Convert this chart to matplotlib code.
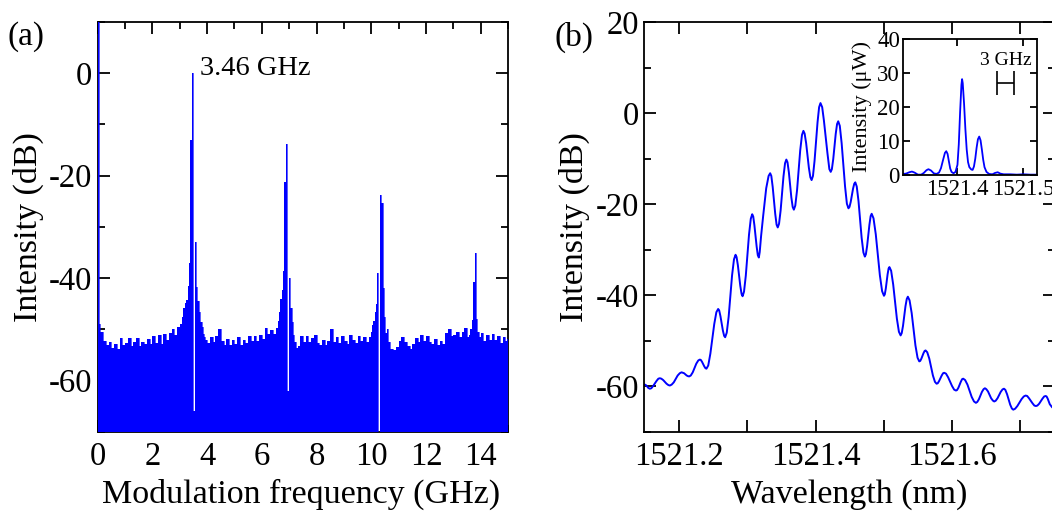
import numpy as np
import matplotlib
matplotlib.use("Agg")
import matplotlib.pyplot as plt
from matplotlib.ticker import MultipleLocator, FixedLocator, FormatStrFormatter

plt.rcParams['font.family'] = ['Liberation Serif', 'DejaVu Serif']
plt.rcParams['axes.unicode_minus'] = False
BLUE = '#0000ff'

# ---------------- (a) RF spectrum data ----------------
dc_freq = [0.0, 0.02]
dc_db = [10.0, 10.0]

floor1_freq = np.round(np.arange(0.05, 3.06, 0.1), 2)
floor1_db = [-49.0, -50.5, -52.3, -53.0, -52.4, -53.6, -52.8, -53.9, -51.6, -53.1,
             -52.6, -51.7, -53.2, -52.4, -51.6, -53.3, -52.5, -52.9, -51.8, -52.8,
             -51.2, -52.6, -51.1, -52.8, -50.8, -52.0, -50.6, -50.0, -51.0, -49.6,
             -49.0]

peak1_freq = [3.11, 3.16, 3.21, 3.26, 3.31, 3.36, 3.40, 3.46, 3.52, 3.57,
              3.62, 3.67, 3.72, 3.77, 3.82, 3.86, 3.90]
peak1_db = [-47.5, -45.9, -44.8, -44.2, -41.5, -37.0, -13.0, 0.0, -66.0, -33.0,
            -41.8, -44.5, -46.5, -48.5, -49.6, -50.8, -51.5]

floor2_freq = np.round(np.arange(3.95, 6.56, 0.1), 2)
floor2_db = [-52.0, -52.6, -51.4, -52.5, -51.3, -50.0, -52.2, -53.0, -51.8, -53.1,
             -52.0, -52.8, -51.5, -53.0, -52.0, -52.6, -51.3, -52.2, -51.2, -52.3,
             -51.0, -51.9, -49.8, -50.9, -50.1, -50.8, -49.8]

peak2_freq = [6.60, 6.65, 6.70, 6.75, 6.80, 6.84, 6.90, 6.96, 7.01, 7.06,
              7.11, 7.16, 7.22, 7.28]
peak2_db = [-48.4, -46.5, -44.0, -42.2, -38.5, -21.2, -13.9, -62.0, -40.0, -45.9,
            -48.5, -51.0, -52.4, -53.6]

floor3_freq = np.round(np.arange(7.35, 9.96, 0.1), 2)
floor3_db = [-53.2, -51.3, -52.4, -51.2, -52.5, -51.6, -51.0, -52.6, -53.0, -52.0,
             -53.1, -52.2, -50.0, -52.5, -51.4, -52.7, -51.2, -52.3, -52.8, -51.0,
             -52.0, -52.6, -51.2, -52.2, -51.5, -52.4, -51.5]

peak3_freq = [10.00, 10.05, 10.10, 10.15, 10.20, 10.24, 10.29, 10.34, 10.39, 10.44,
              10.49, 10.54, 10.59]
peak3_db = [-50.5, -49.2, -48.3, -46.6, -45.0, -39.0, -70.0, -23.8, -25.4, -42.0,
            -47.5, -50.7, -50.0]

floor4_freq = np.round(np.arange(10.65, 13.56, 0.1), 2)
floor4_db = [-52.5, -53.8, -54.0, -53.4, -52.2, -51.5, -52.4, -53.3, -53.9, -52.9,
             -51.6, -52.5, -51.1, -52.2, -51.3, -52.4, -52.8, -51.9, -53.0, -52.2,
             -52.9, -50.6, -50.0, -51.3, -51.0, -50.4, -51.4, -50.5, -49.8, -51.5]

peak4_freq = [13.60, 13.65, 13.70, 13.75, 13.80, 13.85, 13.90]
peak4_db = [-51.0, -50.0, -48.2, -40.7, -35.0, -48.0, -50.5]

floor5_freq = [13.95, 14.05, 14.15, 14.25, 14.35, 14.45, 14.55, 14.65, 14.75, 14.85, 14.95, 15.00]
floor5_db = [-51.5, -50.6, -52.2, -51.1, -52.0, -50.9, -52.1, -51.3, -52.6, -51.5, -52.3, -51.8]

# ---------------- (b) optical spectrum data ----------------
# points (extrema and points between them)
opt_wl_main = [1521.1497, 1521.1521, 1521.1546, 1521.1570, 1521.1619, 1521.1668, 1521.1717, 1521.1766,
               1521.1815, 1521.1864, 1521.1921, 1521.1978, 1521.2035, 1521.2072, 1521.2110, 1521.2147,
               1521.2199, 1521.2251, 1521.2303, 1521.2335, 1521.2368, 1521.2400, 1521.2457, 1521.2514,
               1521.2571, 1521.2605, 1521.2640, 1521.2674, 1521.2725, 1521.2775, 1521.2826, 1521.2860,
               1521.2895, 1521.2929, 1521.2976, 1521.3023, 1521.3070, 1521.3102, 1521.3135, 1521.3167,
               1521.3200, 1521.3231, 1521.3275, 1521.3333, 1521.3370, 1521.3407, 1521.3444, 1521.3486,
               1521.3528, 1521.3570, 1521.3607, 1521.3643, 1521.3680, 1521.3727, 1521.3773, 1521.3820,
               1521.3860, 1521.3900, 1521.3940, 1521.3983, 1521.4027, 1521.4070, 1521.4120, 1521.4172,
               1521.4220, 1521.4257, 1521.4293, 1521.4330, 1521.4380, 1521.4430, 1521.4480, 1521.4513,
               1521.4547, 1521.4580, 1521.4627, 1521.4673, 1521.4720, 1521.4753, 1521.4787, 1521.4820,
               1521.4880, 1521.4940, 1521.5000, 1521.5027, 1521.5053, 1521.5080, 1521.5135, 1521.5189,
               1521.5244, 1521.5279, 1521.5315, 1521.5350, 1521.5406, 1521.5461, 1521.5517, 1521.5548,
               1521.5579, 1521.5610, 1521.5664, 1521.5717, 1521.5771, 1521.5808, 1521.5846, 1521.5883,
               1521.5940, 1521.5997, 1521.6054, 1521.6090, 1521.6125, 1521.6161, 1521.6223, 1521.6285,
               1521.6347, 1521.6391, 1521.6435, 1521.6479, 1521.6524, 1521.6570, 1521.6615, 1521.6663,
               1521.6710, 1521.6758, 1521.6803, 1521.6849, 1521.6894, 1521.6954, 1521.7015, 1521.7075,
               1521.7125, 1521.7176, 1521.7226, 1521.7273, 1521.7321, 1521.7368, 1521.7399, 1521.7429,
               1521.7460]
opt_db_main = [-59.6, -59.8, -60.3, -60.5, -59.9, -58.8, -58.2, -58.6,
               -59.4, -59.8, -59.1, -57.6, -56.9, -57.1, -57.6, -57.8,
               -56.9, -55.0, -54.1, -54.6, -55.6, -56.1, -52.8, -46.3,
               -43.0, -44.6, -47.7, -49.2, -44.7, -35.6, -31.1, -33.4,
               -37.9, -40.2, -35.7, -26.7, -22.2, -24.6, -29.3, -31.7,
               -27.0, -22.5, -16.5, -13.2, -16.2, -22.1, -25.1, -21.4,
               -13.9, -10.2, -13.0, -18.5, -21.2, -16.9, -8.2, -3.9,
               -6.6, -12.0, -14.7, -10.5, -2.0, 2.2, -1.6, -8.8,
               -12.9, -10.1, -4.6, -1.8, -6.6, -16.1, -20.9, -19.5,
               -16.6, -15.2, -19.3, -27.4, -31.5, -29.2, -24.5, -22.1,
               -26.6, -35.6, -40.1, -38.5, -35.4, -33.8, -37.6, -45.1,
               -48.8, -46.7, -42.4, -40.3, -43.9, -51.0, -54.5, -53.9,
               -52.7, -52.1, -53.9, -57.6, -59.4, -58.8, -57.6, -57.0,
               -58.0, -59.9, -60.9, -60.3, -59.0, -58.3, -59.6, -62.3,
               -63.6, -62.8, -61.2, -60.4, -61.1, -62.6, -63.3, -62.6,
               -61.2, -60.5, -61.7, -64.0, -65.1, -64.3, -62.8, -62.0,
               -62.6, -63.7, -64.3, -63.8, -62.7, -62.1, -62.7, -63.9,
               -64.5]
# extra points read close to each crest and trough (rounded tops)
opt_wl_round = [1521.1592, 1521.1695, 1521.1739, 1521.1842, 1521.1890, 1521.2009, 1521.2052, 1521.2130,
                1521.2170, 1521.2280, 1521.2318, 1521.2385, 1521.2426, 1521.2545, 1521.2586, 1521.2659,
                1521.2697, 1521.2803, 1521.2841, 1521.2914, 1521.2950, 1521.3049, 1521.3085, 1521.3152,
                1521.3180, 1521.3310, 1521.3350, 1521.3427, 1521.3463, 1521.3551, 1521.3587, 1521.3663,
                1521.3701, 1521.3799, 1521.3838, 1521.3922, 1521.3960, 1521.4050, 1521.4095, 1521.4200,
                1521.4237, 1521.4313, 1521.4353, 1521.4457, 1521.4495, 1521.4565, 1521.4601, 1521.4699,
                1521.4735, 1521.4805, 1521.4847, 1521.4973, 1521.5012, 1521.5068, 1521.5105, 1521.5219,
                1521.5260, 1521.5334, 1521.5375, 1521.5492, 1521.5531, 1521.5596, 1521.5634, 1521.5747,
                1521.5788, 1521.5866, 1521.5909, 1521.6028, 1521.6070, 1521.6145, 1521.6189, 1521.6319,
                1521.6367, 1521.6459, 1521.6499, 1521.6595, 1521.6636, 1521.6737, 1521.6778, 1521.6874,
                1521.6921, 1521.7048, 1521.7098, 1521.7203, 1521.7247, 1521.7347, 1521.7382]
opt_db_round = [-60.4, -58.3, -58.3, -59.7, -59.6, -57.1, -57.0, -57.75,
                -57.6, -54.3, -54.2, -56.0, -55.4, -43.7, -43.3, -48.9,
                -48.2, -32.1, -31.6, -39.7, -39.2, -23.2, -22.7, -31.2,
                -30.5, -13.8, -13.8, -24.5, -24.3, -11.0, -10.8, -20.6,
                -20.3, -4.8, -4.5, -14.1, -13.8, 1.3, 1.3, -12.3,
                -12.3, -2.4, -2.8, -19.9, -20.6, -15.5, -16.1, -30.6,
                -31.0, -22.6, -23.1, -39.1, -39.8, -34.1, -34.6, -48.0,
                -48.3, -40.8, -41.1, -53.7, -54.4, -52.2, -52.5, -59.0,
                -59.3, -57.1, -57.2, -60.7, -60.8, -58.4, -58.6, -63.3,
                -63.4, -60.6, -60.6, -63.1, -63.15, -60.65, -60.75, -64.85,
                -64.9, -62.2, -62.1, -64.2, -64.2, -62.2, -62.2]

# ---------------- inset (linear scale) ----------------
inset_wl = [1521.317, 1521.322, 1521.327, 1521.331, 1521.335, 1521.340, 1521.345, 1521.349,
            1521.353, 1521.356, 1521.360, 1521.364, 1521.368, 1521.372, 1521.375, 1521.378,
            1521.381, 1521.383, 1521.385, 1521.387, 1521.389, 1521.391, 1521.394, 1521.397,
            1521.400, 1521.402, 1521.404, 1521.406, 1521.407, 1521.408, 1521.410, 1521.412,
            1521.414, 1521.416, 1521.418, 1521.421, 1521.423, 1521.425, 1521.427, 1521.429,
            1521.431, 1521.433, 1521.435, 1521.437, 1521.439, 1521.441, 1521.444, 1521.448,
            1521.453, 1521.457, 1521.461, 1521.465, 1521.470, 1521.480, 1521.490, 1521.500,
            1521.510, 1521.521]
inset_uw = [0.3, 0.4, 0.8, 1.0, 0.7, 0.1, 0.1, 0.6,
            1.4, 1.7, 1.3, 0.5, 0.3, 0.7, 2.0, 4.3,
            6.5, 7.0, 6.2, 4.0, 1.9, 0.9, 0.5, 0.9,
            3.0, 9.0, 18.5, 26.5, 28.2, 27.0, 21.0, 13.5,
            7.5, 3.8, 2.3, 1.6, 1.5, 2.5, 4.8, 8.0,
            10.5, 11.3, 10.2, 7.5, 4.5, 2.3, 0.9, 0.3,
            0.2, 0.6, 0.8, 0.4, 0.2, 0.2, 0.1, 0.2,
            0.1, 0.1]

scalebar_center_nm = 1521.473
scalebar_half_nm = 0.013
scalebar_level_uw = 27.0

# ---------------- figure ----------------
fig = plt.figure(figsize=(10.52, 5.16), dpi=100)
ax1 = fig.add_axes([0.0929, 0.1628, 0.3900, 0.7946])
ax2 = fig.add_axes([0.6125, 0.1628, 0.3900, 0.7946])
axin = fig.add_axes([0.8581, 0.6609, 0.1279, 0.2635])

TICK_FS = 23.5
LABEL_FS = 24.5


def style(ax, fs, major_len, minor_len):
    for s in ax.spines.values():
        s.set_linewidth(1.3)
    ax.tick_params(which='both', direction='in', top=True, right=True,
                   width=1.3, labelsize=fs)
    ax.tick_params(which='major', length=major_len)
    ax.tick_params(which='minor', length=minor_len)


# (a)
freq_a = np.concatenate([dc_freq, floor1_freq, peak1_freq, floor2_freq, peak2_freq,
                         floor3_freq, peak3_freq, floor4_freq, peak4_freq, floor5_freq])
db_a = np.concatenate([dc_db, floor1_db, peak1_db, floor2_db, peak2_db,
                       floor3_db, peak3_db, floor4_db, peak4_db, floor5_db])
ax1.fill_between(freq_a, -70, db_a, step='mid', color=BLUE, lw=0, zorder=3)
ax1.plot(freq_a, db_a, drawstyle='steps-mid', color=BLUE, lw=0.45, zorder=3)
ax1.set_xlim(0, 15)
ax1.set_ylim(-70, 10)
ax1.xaxis.set_major_locator(MultipleLocator(2))
ax1.xaxis.set_minor_locator(MultipleLocator(1))
ax1.yaxis.set_major_locator(MultipleLocator(20))
ax1.yaxis.set_minor_locator(MultipleLocator(10))
style(ax1, TICK_FS, 8.6, 5)
ax1.tick_params(axis='x', which='major', pad=7)
ax1.tick_params(axis='y', which='major', pad=4)
ax1.set_xlabel('Modulation frequency (GHz)', fontsize=LABEL_FS)
ax1.set_ylabel('Intensity (dB)', fontsize=LABEL_FS)
ax1.xaxis.set_label_coords(0.4955, -0.115)
ax1.yaxis.set_label_coords(-0.131, 0.5)
ax1.text(3.75, -0.4, '3.46 GHz', fontsize=20.5, va='baseline', ha='left')

# (b)
wl_b = np.concatenate([opt_wl_main, opt_wl_round])
db_b = np.concatenate([opt_db_main, opt_db_round])
order = np.argsort(wl_b)
ax2.plot(wl_b[order], db_b[order], color=BLUE, lw=1.4)
ax2.set_xlim(1521.149, 1521.750)
ax2.set_ylim(-70, 20)
ax2.xaxis.set_major_locator(FixedLocator([1521.2, 1521.4, 1521.6]))
ax2.xaxis.set_minor_locator(FixedLocator([1521.3, 1521.5, 1521.7]))
ax2.xaxis.set_major_formatter(FormatStrFormatter('%.1f'))
ax2.yaxis.set_major_locator(MultipleLocator(20))
ax2.yaxis.set_minor_locator(MultipleLocator(10))
style(ax2, TICK_FS, 8.6, 5)
ax2.tick_params(axis='x', which='minor', length=8.6)
ax2.tick_params(axis='x', which='major', pad=7)
ax2.tick_params(axis='y', which='major', pad=4)
ax2.set_xlabel('Wavelength (nm)', fontsize=LABEL_FS)
ax2.set_ylabel('Intensity (dB)', fontsize=LABEL_FS)
ax2.xaxis.set_label_coords(0.5, -0.115)
ax2.yaxis.set_label_coords(-0.132, 0.5)

# inset
axin.plot(inset_wl, inset_uw, color=BLUE, lw=1.3)
axin.set_xlim(1521.317, 1521.521)
axin.set_ylim(0, 40)
axin.xaxis.set_major_locator(FixedLocator([1521.4, 1521.5]))
axin.xaxis.set_major_formatter(FormatStrFormatter('%.1f'))
axin.yaxis.set_major_locator(MultipleLocator(10))
style(axin, 16.5, 5, 3)
axin.tick_params(axis='x', pad=3)
axin.tick_params(axis='y', pad=2)
axin.set_ylabel('Intensity (\u03bcW)', fontsize=16)
axin.yaxis.set_label_coords(-0.23, 0.5)
axin.text(0.96, 0.81, '3 GHz', transform=axin.transAxes, fontsize=14, ha='right', va='baseline')
axin.errorbar([scalebar_center_nm], [scalebar_level_uw], xerr=[scalebar_half_nm],
              fmt='none', ecolor='black', elinewidth=1.2, capsize=8.5, capthick=1.2)

fig.text(0.0247, 0.9283, '(a)', fontsize=24, ha='center', va='center')
fig.text(0.5456, 0.9283, '(b)', fontsize=24, ha='center', va='center')

fig.savefig('out.png', dpi=100)
